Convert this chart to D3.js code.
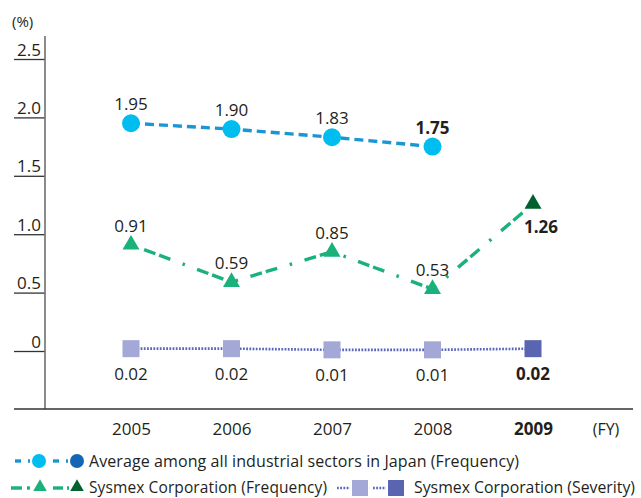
<!DOCTYPE html>
<html>
<head>
<meta charset="utf-8">
<script src="https://cdn.jsdelivr.net/npm/d3@7"></script>
<style>
  html, body { margin: 0; padding: 0; background: #fff; }
  svg { display: block; font-family: "Open Sans", "Noto Sans", sans-serif; }
</style>
</head>
<body>
<svg id="chart" width="641" height="498"></svg>
<script>
// Fiscal years on the horizontal axis
const years = ["2005", "2006", "2007", "2008", "2009"];
const highlightYear = "2009";

// Lost-time injury rates (%)
const japanAverageFrequency = [1.95, 1.90, 1.83, 1.75];           // no 2009 figure
const sysmexFrequency = [0.91, 0.59, 0.85, 0.53, 1.26];
const sysmexSeverity = [0.02, 0.02, 0.01, 0.01, 0.02];

// Vertical axis ticks
const yTicks = [0, 0.5, 1.0, 1.5, 2.0, 2.5];
const yTickLabels = ["0", "0.5", "1.0", "1.5", "2.0", "2.5"];

const legendRow1 = "Average among all industrial sectors in Japan (Frequency)";
const legendRow2a = "Sysmex Corporation (Frequency)";
const legendRow2b = "Sysmex Corporation (Severity)";

const C = {
  text: "#231f20",
  axis: "#6e6e6e",
  cyan: "#00bdf0",
  blueLine: "#1b95d3",
  blueDark: "#1466b4",
  green: "#1bb17b",
  greenDark: "#00612f",
  lav: "#a4a8d6",
  lavDark: "#5965b0",
  dotLine: "#5a68bd"
};

const svg = d3.select("#chart");

const x = d3.scalePoint().domain(years).range([131, 533]);
const y = d3.scaleLinear().domain([0, 2.5]).range([351, 59]);

// ---- axes ----
const yAxis = d3.axisLeft(y)
  .tickValues(yTicks)
  .tickFormat((d, i) => yTickLabels[i])
  .tickSizeInner(31)
  .tickSizeOuter(0);

const gy = svg.append("g").attr("transform", "translate(45,0)").call(yAxis);
gy.select(".domain").remove();
gy.selectAll(".tick line").attr("stroke", "#333").attr("stroke-width", 1.3);
gy.selectAll(".tick text")
  .attr("x", -4).attr("y", -4).attr("dy", 0)
  .attr("text-anchor", "end")
  .attr("fill", C.text)
  .style("font-size", "17px")
  .style("font-family", "'Open Sans', sans-serif");

// vertical axis line
svg.append("line")
  .attr("x1", 45).attr("x2", 45)
  .attr("y1", 36).attr("y2", 409)
  .attr("stroke", C.axis).attr("stroke-width", 1.6);

// baseline
svg.append("line")
  .attr("x1", 14).attr("x2", 633)
  .attr("y1", 409).attr("y2", 409)
  .attr("stroke", "#333").attr("stroke-width", 1.3);

svg.append("text")
  .attr("x", 12).attr("y", 27)
  .attr("fill", C.text)
  .style("font-size", "15px")
  .text("(%)");

const xAxis = d3.axisBottom(x).tickSize(0).tickPadding(0);
const gx = svg.append("g").attr("transform", "translate(0,435)").call(xAxis);
gx.select(".domain").remove();
gx.selectAll(".tick text")
  .attr("y", 0).attr("dy", 0)
  .attr("fill", C.text)
  .style("font-size", "17px")
  .style("font-family", "'Open Sans', sans-serif")
  .style("font-weight", d => d === highlightYear ? "700" : "400");

svg.append("text")
  .attr("x", 606).attr("y", 435)
  .attr("text-anchor", "middle")
  .attr("fill", C.text)
  .style("font-size", "16px")
  .text("(FY)");

// ---- series ----
const line = d3.line().x(d => x(d.year)).y(d => y(d.value));

const japanData = japanAverageFrequency.map((v, i) => ({ year: years[i], value: v }));
const freqData = sysmexFrequency.map((v, i) => ({ year: years[i], value: v }));
const sevData = sysmexSeverity.map((v, i) => ({ year: years[i], value: v }));

// lines
svg.append("path").datum(japanData)
  .attr("d", line).attr("fill", "none")
  .attr("stroke", C.blueLine).attr("stroke-width", 3.4)
  .attr("stroke-dasharray", "9,5");

svg.append("path").datum(freqData)
  .attr("d", line).attr("fill", "none")
  .attr("stroke", C.green).attr("stroke-width", 3.4)
  .attr("stroke-dasharray", "12,4,12,13,2.5,13")
  .attr("stroke-dashoffset", -14);

svg.append("path").datum(sevData)
  .attr("d", line).attr("fill", "none")
  .attr("stroke", C.dotLine).attr("stroke-width", 2.6)
  .attr("stroke-dasharray", "1.8,1.4");

// markers
svg.selectAll(".japan-pt").data(japanData).enter().append("circle")
  .attr("cx", d => x(d.year)).attr("cy", d => y(d.value))
  .attr("r", 9).attr("fill", C.cyan);

const tri = d3.symbol().type(d3.symbolTriangle).size(125);
svg.selectAll(".freq-pt").data(freqData).enter().append("path")
  .attr("d", tri)
  .attr("transform", d => `translate(${x(d.year)},${y(d.value)})`)
  .attr("fill", d => d.year === highlightYear ? C.greenDark : C.green);

svg.selectAll(".sev-pt").data(sevData).enter().append("rect")
  .attr("x", d => x(d.year) - 8.5).attr("y", d => y(d.value) - 8.5)
  .attr("width", 17).attr("height", 17)
  .attr("fill", d => d.year === highlightYear ? C.lavDark : C.lav);

// value labels
const fmt = d3.format(".2f");
function label(data, dx, dy, cls) {
  svg.selectAll("." + cls).data(data).enter().append("text")
    .attr("x", d => x(d.year) + (typeof dx === "function" ? dx(d) : dx))
    .attr("y", d => y(d.value) + (typeof dy === "function" ? dy(d) : dy))
    .attr("text-anchor", "middle")
    .attr("fill", C.text)
    .style("font-size", "17px")
    .style("font-weight", d => (d.year === highlightYear || d === data[data.length - 1] && cls === "lbl-japan") ? "700" : "400")
    .text(d => fmt(d.value));
}
label(japanData, 0, -13, "lbl-japan");
label(freqData, d => d.year === highlightYear ? 8 : 0, d => d.year === highlightYear ? 29 : -13, "lbl-freq");
label(sevData, 0, 31, "lbl-sev");

// ---- legend ----
const lg = svg.append("g");

// row 1: average frequency
const r1 = 461;
lg.append("line").attr("x1", 15).attr("x2", 21).attr("y1", r1).attr("y2", r1)
  .attr("stroke", C.blueLine).attr("stroke-width", 3.4);
lg.append("line").attr("x1", 28).attr("x2", 30).attr("y1", r1).attr("y2", r1)
  .attr("stroke", C.blueLine).attr("stroke-width", 3.4);
lg.append("circle").attr("cx", 39).attr("cy", r1).attr("r", 7).attr("fill", C.cyan);
lg.append("line").attr("x1", 53).attr("x2", 59).attr("y1", r1).attr("y2", r1)
  .attr("stroke", C.blueLine).attr("stroke-width", 3.4);
lg.append("line").attr("x1", 66).attr("x2", 68).attr("y1", r1).attr("y2", r1)
  .attr("stroke", C.blueLine).attr("stroke-width", 3.4);
lg.append("circle").attr("cx", 77).attr("cy", r1).attr("r", 7).attr("fill", C.blueDark);
lg.append("text").attr("x", 89).attr("y", r1 + 6)
  .attr("fill", C.text).style("font-size", "16px")
  .attr("textLength", 430).attr("lengthAdjust", "spacing")
  .text(legendRow1);

// row 2: Sysmex frequency and severity
const r2 = 488;
const smallTri = d3.symbol().type(d3.symbolTriangle).size(80);
lg.append("line").attr("x1", 11).attr("x2", 22).attr("y1", r2).attr("y2", r2)
  .attr("stroke", C.green).attr("stroke-width", 3.4);
lg.append("line").attr("x1", 27).attr("x2", 30).attr("y1", r2).attr("y2", r2)
  .attr("stroke", C.green).attr("stroke-width", 3.4);
lg.append("path").attr("d", smallTri).attr("transform", `translate(40,${r2 - 1})`).attr("fill", C.green);
lg.append("line").attr("x1", 53).attr("x2", 63).attr("y1", r2).attr("y2", r2)
  .attr("stroke", C.green).attr("stroke-width", 3.4);
lg.append("line").attr("x1", 67).attr("x2", 69).attr("y1", r2).attr("y2", r2)
  .attr("stroke", C.green).attr("stroke-width", 3.4);
lg.append("path").attr("d", smallTri).attr("transform", `translate(77,${r2 - 1})`).attr("fill", C.greenDark);
lg.append("text").attr("x", 89).attr("y", r2 + 5)
  .attr("fill", C.text).style("font-size", "15.5px")
  .attr("textLength", 238).attr("lengthAdjust", "spacing")
  .text(legendRow2a);

lg.append("line").attr("x1", 337).attr("x2", 350).attr("y1", r2).attr("y2", r2)
  .attr("stroke", C.dotLine).attr("stroke-width", 2.6).attr("stroke-dasharray", "1.8,1.4");
lg.append("rect").attr("x", 352).attr("y", r2 - 8).attr("width", 16).attr("height", 16).attr("fill", C.lav);
lg.append("line").attr("x1", 373).attr("x2", 386).attr("y1", r2).attr("y2", r2)
  .attr("stroke", C.dotLine).attr("stroke-width", 2.6).attr("stroke-dasharray", "1.8,1.4");
lg.append("rect").attr("x", 388).attr("y", r2 - 8).attr("width", 16).attr("height", 16).attr("fill", C.lavDark);
lg.append("text").attr("x", 414).attr("y", r2 + 5)
  .attr("fill", C.text).style("font-size", "15.5px")
  .attr("textLength", 221).attr("lengthAdjust", "spacingAndGlyphs")
  .text(legendRow2b);
</script>
</body>
</html>
